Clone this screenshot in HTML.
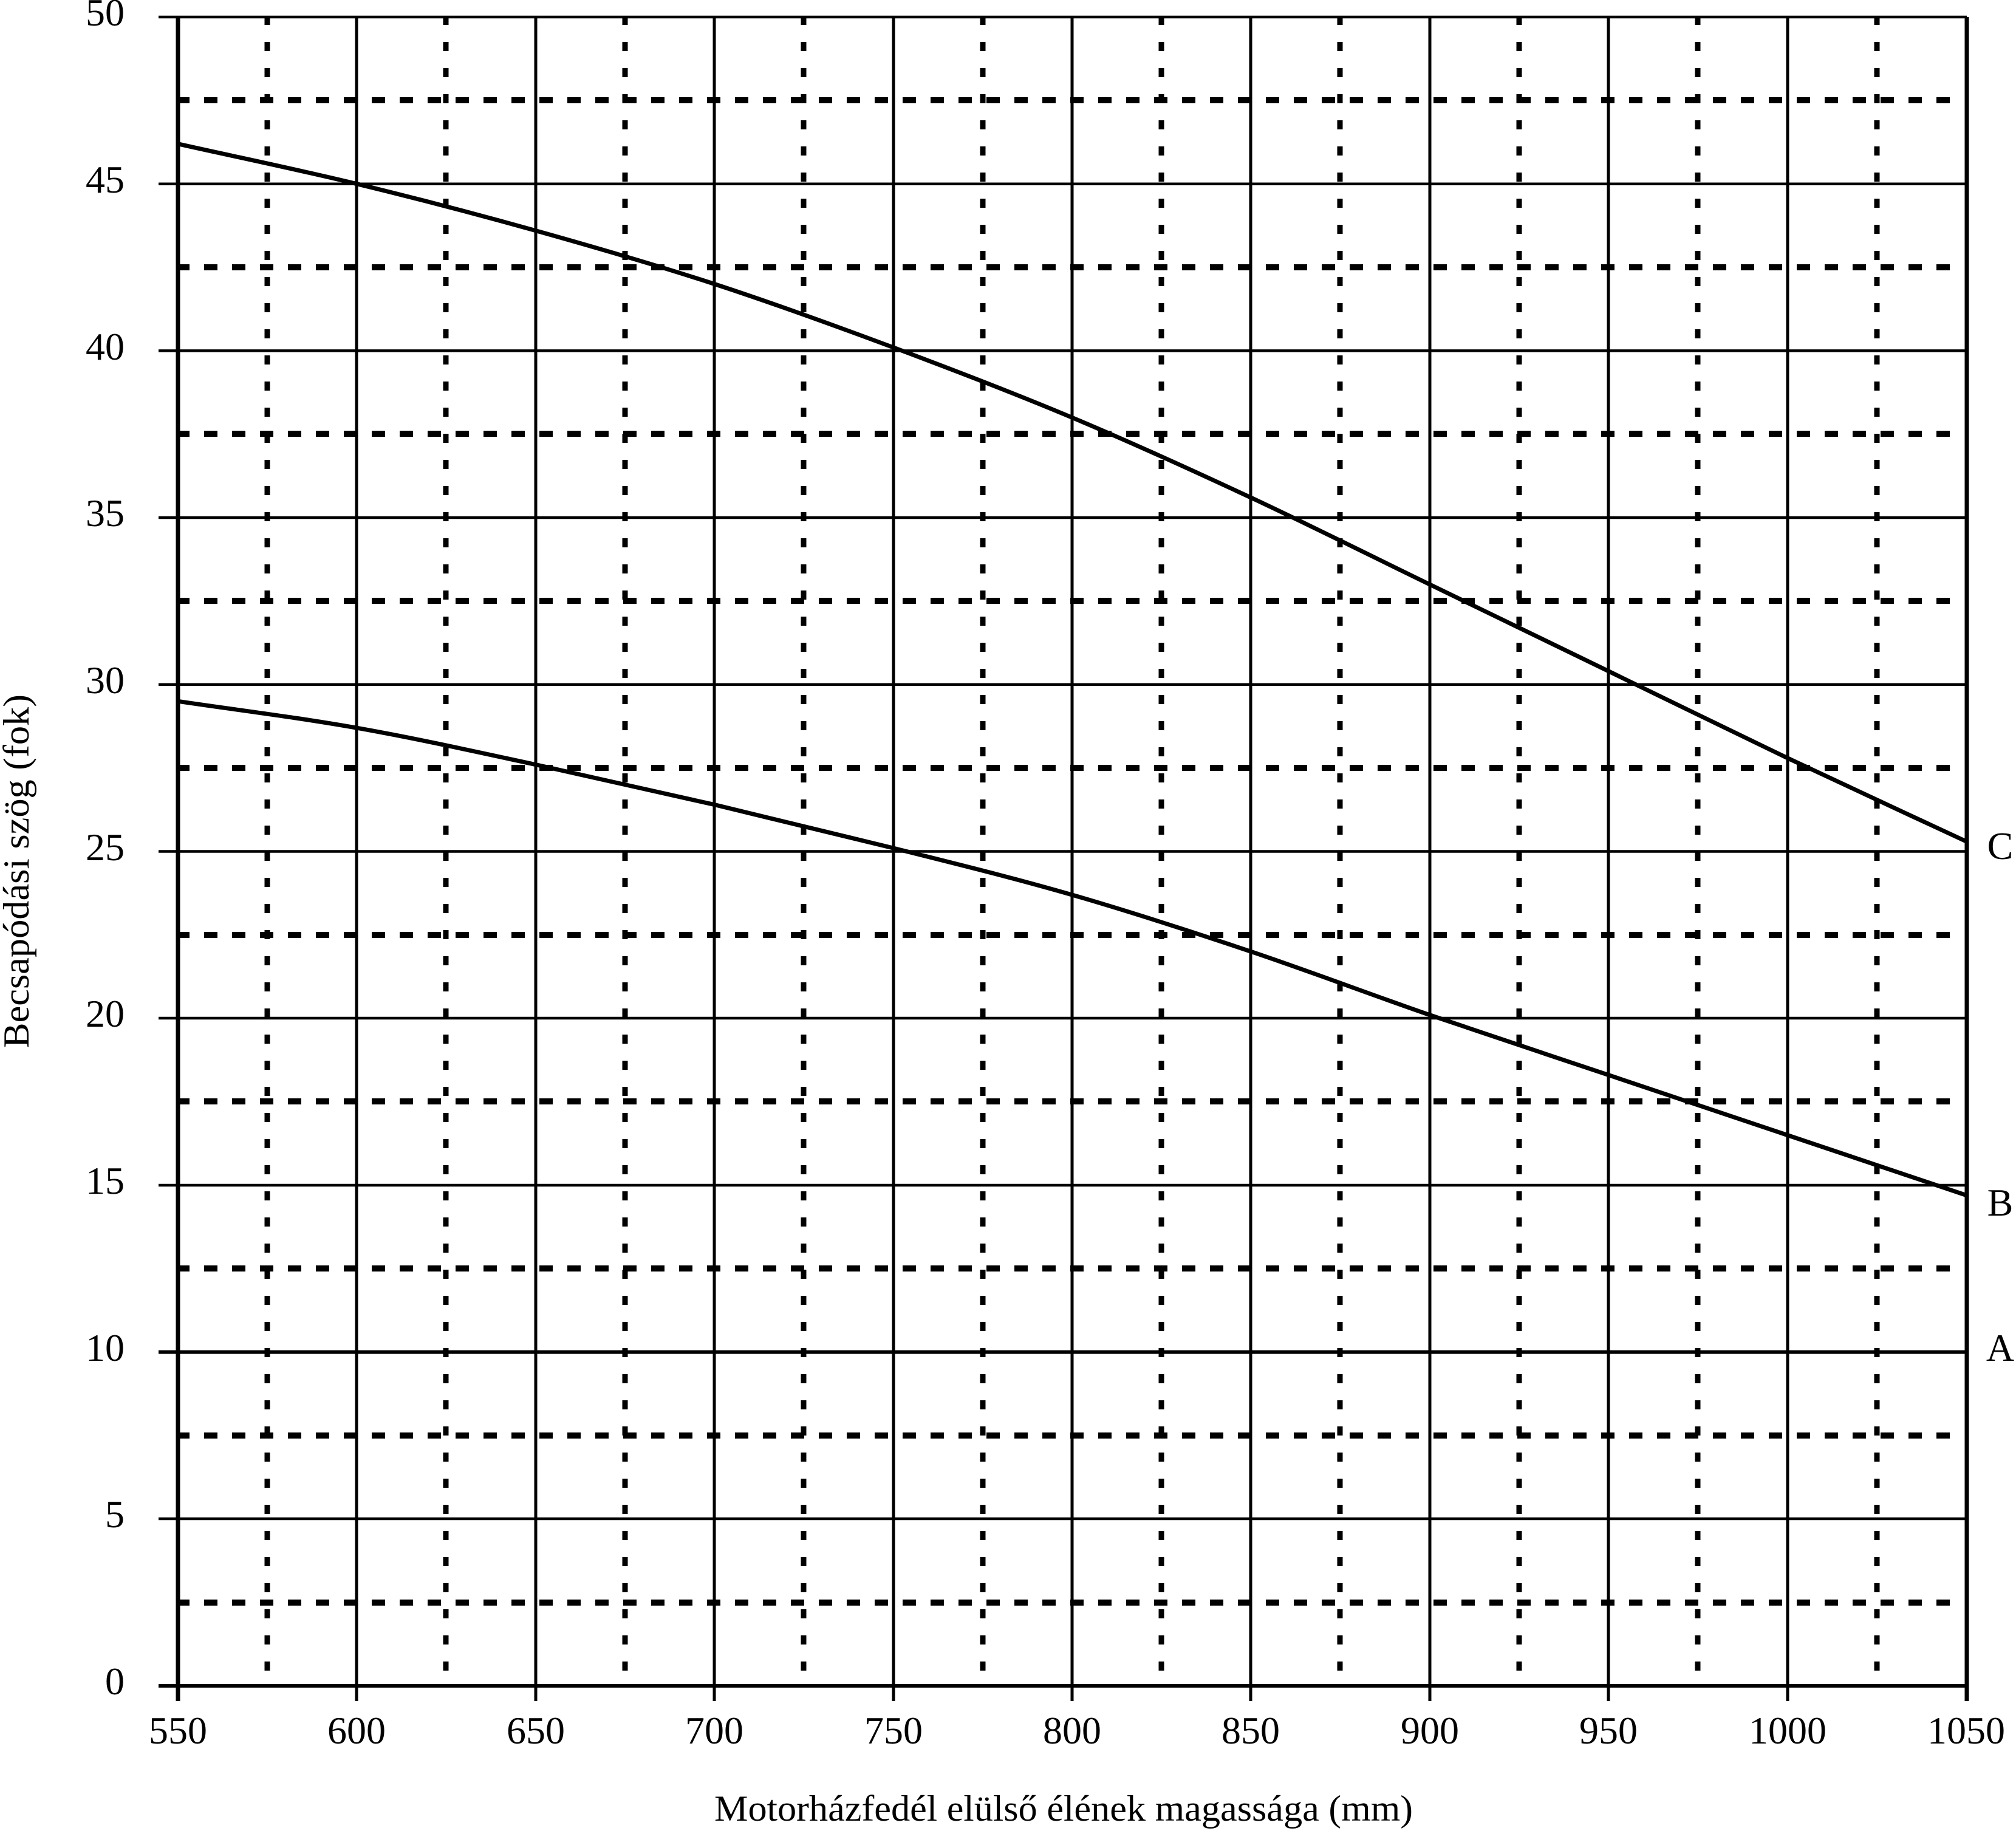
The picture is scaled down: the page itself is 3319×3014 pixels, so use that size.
<!DOCTYPE html>
<html><head><meta charset="utf-8"><style>html,body{margin:0;padding:0;background:#fff}svg{display:block}</style></head>
<body>
<svg width="3319" height="3014" viewBox="0 0 3319 3014" xmlns="http://www.w3.org/2000/svg" font-family="'Liberation Serif', serif" fill="#000">
<g stroke="#000" fill="none">
<g stroke-width="9" stroke-dasharray="15 28">
<path d="M440,26V2755M734,26V2755M1029,26V2755M1323,26V2755M1618,26V2755M1912,26V2755M2206,26V2755M2501,26V2755M2795,26V2755M3090,26V2755"/>
</g>
<g stroke-width="10" stroke-dasharray="22 24">
<path d="M290,165H3232M290,440H3232M290,714H3232M290,989H3232M290,1264H3232M290,1539H3232M290,1813H3232M290,2088H3232M290,2363H3232M290,2638H3232"/>
</g>
<g stroke-width="4.5">
<path d="M261,28H3238M261,302.7H3238M261,577.4H3238M261,852H3238M261,1126.8H3238M261,1401.5H3238M261,1676H3238M261,1951H3238M261,2500H3238"/>
</g>
<path d="M261,2225.6H3238" stroke-width="6"/>
<path d="M261,2775H3238" stroke-width="6"/>
<g stroke-width="5">
<path d="M587,28V2800M882,28V2800M1176,28V2800M1471,28V2800M1765,28V2800M2059,28V2800M2354,28V2800M2648,28V2800M2943,28V2800"/>
</g>
<path d="M293,28V2800M3238,28V2800" stroke-width="7"/>
<g stroke-width="7" stroke-linejoin="round" stroke-linecap="round">
<path d="M293,236.8 C391.1,258.8 489.3,278.9 587.4,302.7 C685.5,326.5 783.7,352.1 881.8,379.6 C979.9,407.1 1078.1,435.5 1176.2,467.5 C1274.3,499.6 1372.5,535.3 1470.6,571.9 C1568.7,608.5 1666.9,646.1 1765,687.3 C1863.1,728.5 1961.3,773.3 2059.4,819.1 C2157.5,864.9 2255.7,914.4 2353.8,962 C2451.9,1009.6 2550.1,1057.2 2648.2,1104.8 C2746.3,1152.4 2844.5,1201 2942.6,1247.7 C3040.7,1294.4 3138.9,1339.2 3237,1385"/>
<path d="M293,1154.3 C391.1,1168.9 489.3,1180.8 587.4,1198.2 C685.5,1215.6 783.7,1237.5 881.8,1258.6 C979.9,1279.7 1078.1,1301.7 1176.2,1324.6 C1274.3,1347.5 1372.5,1371.3 1470.6,1396 C1568.7,1420.7 1666.9,1444.6 1765,1473 C1863.1,1501.4 1961.3,1533.4 2059.4,1566.3 C2157.5,1599.3 2255.7,1636.8 2353.8,1670.7 C2451.9,1704.6 2550.1,1736.6 2648.2,1769.6 C2746.3,1802.6 2844.5,1835.5 2942.6,1868.5 C3040.7,1901.5 3138.9,1934.4 3237,1967.4"/>
</g>
</g>
<g font-size="64" text-anchor="end">
<text x="205" y="42">50</text>
<text x="205" y="317">45</text>
<text x="205" y="592">40</text>
<text x="205" y="866">35</text>
<text x="205" y="1141">30</text>
<text x="205" y="1416">25</text>
<text x="205" y="1690">20</text>
<text x="205" y="1965">15</text>
<text x="205" y="2240">10</text>
<text x="205" y="2514">5</text>
<text x="205" y="2789">0</text>
</g>
<g font-size="64" text-anchor="middle">
<text x="293" y="2870">550</text>
<text x="587" y="2870">600</text>
<text x="882" y="2870">650</text>
<text x="1176" y="2870">700</text>
<text x="1471" y="2870">750</text>
<text x="1765" y="2870">800</text>
<text x="2059" y="2870">850</text>
<text x="2354" y="2870">900</text>
<text x="2648" y="2870">950</text>
<text x="2943" y="2870">1000</text>
<text x="3237" y="2870">1050</text>
<text x="3293" y="1414">C</text>
<text x="3293" y="2001">B</text>
<text x="3293" y="2240">A</text>
</g>
<text x="1176" y="2997" font-size="60" textLength="1150" lengthAdjust="spacingAndGlyphs">Motorházfedél elülső élének magassága (mm)</text>
<text transform="translate(47,1725) rotate(-90)" font-size="60" textLength="582" lengthAdjust="spacingAndGlyphs">Becsapódási szög (fok)</text>
</svg>
</body></html>
